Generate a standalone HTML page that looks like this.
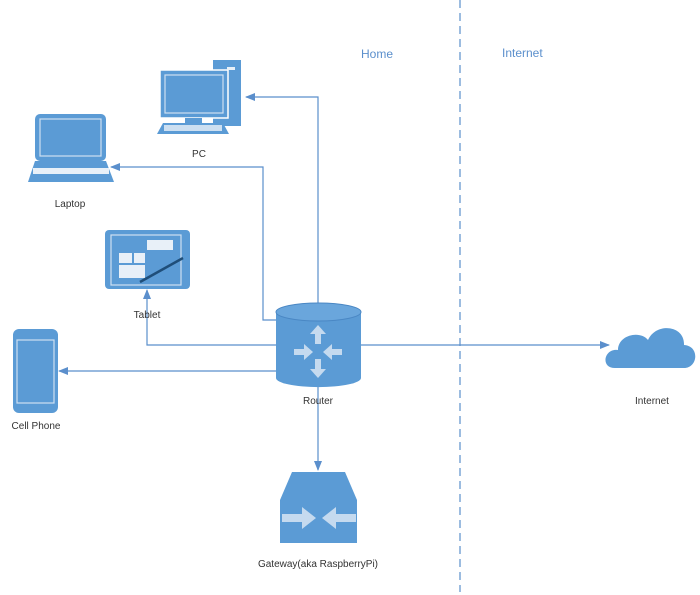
<!DOCTYPE html>
<html><head><style>body{margin:0;background:#fff}svg{display:block}text{font-family:"Liberation Sans",sans-serif;font-size:10px;fill:#333}</style></head><body>
<svg width="700" height="595" viewBox="0 0 700 595">
<defs><marker id="a" markerWidth="10" markerHeight="10" refX="9" refY="5" orient="auto" markerUnits="userSpaceOnUse"><path d="M0,1 L10,5 L0,9z" fill="#5b8fcc"/></marker></defs>
<line x1="460" y1="0" x2="460" y2="592" stroke="#5b8fcc" stroke-dasharray="8,5" stroke-width="1.2"/>
<text x="361" y="58" style="font-size:12px;fill:#5b8fcc">Home</text>
<text x="502" y="57" style="font-size:12px;fill:#5b8fcc">Internet</text>
<g fill="none" stroke="#5b8fcc" stroke-width="1.2">
<path d="M318 303 V97 H246" marker-end="url(#a)"/>
<path d="M276 320 H263 V167 H111" marker-end="url(#a)"/>
<path d="M276 345 H147 V290" marker-end="url(#a)"/>
<path d="M276 371 H59" marker-end="url(#a)"/>
<path d="M361 345 H609" marker-end="url(#a)"/>
<path d="M318 387 V470" marker-end="url(#a)"/>
</g>
<g fill="#5b9bd5">
<!-- router -->
<path d="M276 312 A42 9 0 0 1 361 312 V378 A42 9 0 0 1 276 378Z"/>
<ellipse cx="318.5" cy="312" rx="42.5" ry="9" fill="#6aa6dc" stroke="#4a87c4"/>
<!-- gateway -->
<path d="M292 472 H345 L357 500 V543 H280 V500Z"/>
<!-- PC -->
<rect x="213" y="60" width="28" height="66"/>
<rect x="160" y="70" width="68" height="48" stroke="#fff" stroke-width="1.5"/>
<rect x="185" y="118" width="17" height="5"/>
<path d="M163 123 H223 L229 134 H157Z"/>
<!-- laptop -->
<rect x="35" y="114" width="71" height="47" rx="5"/>
<path d="M35 161 H106 L114 182 H28Z"/>
<!-- tablet -->
<rect x="105" y="230" width="85" height="59" rx="4"/>
<!-- phone -->
<rect x="13" y="329" width="45" height="84" rx="6"/>
<!-- cloud -->
<path d="M615 368 C600 368 604 348 618 350 C618 335 640 330 648 340 C656 322 685 325 684 345 C700 346 698 368 684 368Z"/>
</g>
<g fill="none" stroke="#cfe0f2" stroke-width="1.2">
<rect x="165" y="75" width="58" height="38"/>
<rect x="40" y="119" width="61" height="37"/>
<rect x="111" y="235" width="70" height="50"/>
<rect x="17" y="340" width="37" height="63"/>
</g>
<g fill="#e8f0f8">
<rect x="33" y="168" width="76" height="6"/>
<rect x="164" y="125" width="58" height="6" opacity=".8"/>
<rect x="119" y="253" width="13" height="10"/><rect x="134" y="253" width="11" height="10"/>
<rect x="119" y="265" width="26" height="13"/><rect x="147" y="240" width="26" height="10"/>
<rect x="227" y="67" width="8" height="3"/>
</g>
<line x1="140" y1="282" x2="183" y2="258" stroke="#1f4e79" stroke-width="2.5"/>
<g fill="#d8e6f4" opacity=".85">
<path d="M318 325 l-8 9 h5 v10 h6 v-10 h5z"/>
<path d="M318 378 l-8 -9 h5 v-10 h6 v10 h5z"/>
<path d="M313 352 l-9 -8 v5 h-10 v6 h10 v5z"/>
<path d="M323 352 l9 -8 v5 h10 v6 h-10 v5z"/>
<path d="M316 518 l-14 -11 v7 h-20 v8 h20 v7z"/>
<path d="M322 518 l14 -11 v7 h20 v8 h-20 v7z"/>
</g>
<text x="199" y="157" text-anchor="middle">PC</text>
<text x="70" y="207" text-anchor="middle">Laptop</text>
<text x="147" y="318" text-anchor="middle">Tablet</text>
<text x="36" y="429" text-anchor="middle">Cell Phone</text>
<text x="318" y="404" text-anchor="middle">Router</text>
<text x="318" y="567" text-anchor="middle">Gateway(aka RaspberryPi)</text>
<text x="652" y="404" text-anchor="middle">Internet</text>
</svg>
</body></html>
